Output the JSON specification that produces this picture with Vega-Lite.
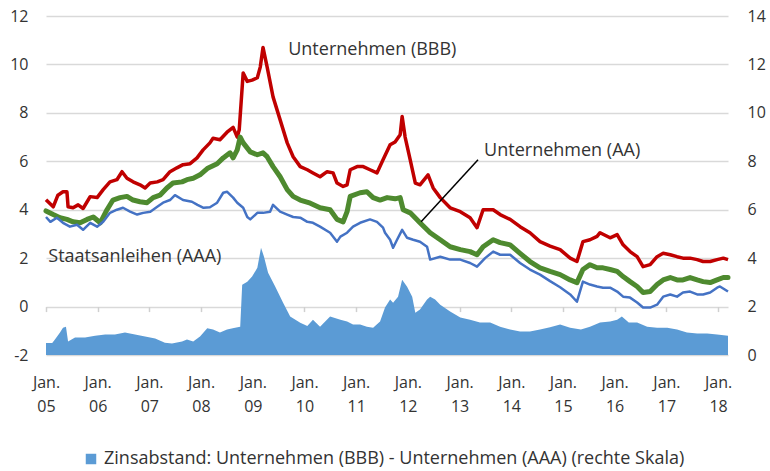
{
  "$schema": "https://vega.github.io/schema/vega-lite/v6.json",
  "width": 682,
  "height": 339,
  "autosize": {"type": "none"},
  "padding": {"left": 46, "top": 16, "right": 42, "bottom": 116},
  "config": {
    "font": "Open Sans",
    "view": {"stroke": null},
    "axis": {"labelColor": "#333333", "labelFont": "Open Sans"},
    "legend": {"labelFont": "Open Sans"}
  },
  "datasets": {
    "bbb": [
      {"d":"2005-01-01","v":4.41},{"d":"2005-02-21","v":4.12},{"d":"2005-03-26","v":4.6},{"d":"2005-05-01","v":4.74},
      {"d":"2005-05-29","v":4.74},{"d":"2005-06-06","v":4.12},{"d":"2005-07-11","v":4.08},{"d":"2005-08-16","v":4.2},
      {"d":"2005-09-20","v":4.05},{"d":"2005-11-09","v":4.54},{"d":"2005-12-28","v":4.5},{"d":"2006-02-09","v":4.83},
      {"d":"2006-03-29","v":5.15},{"d":"2006-05-17","v":5.24},{"d":"2006-06-22","v":5.57},{"d":"2006-07-27","v":5.3},
      {"d":"2006-09-08","v":5.15},{"d":"2006-10-27","v":5.03},{"d":"2006-12-02","v":4.9},{"d":"2007-01-07","v":5.1},
      {"d":"2007-02-26","v":5.15},{"d":"2007-04-08","v":5.24},{"d":"2007-05-27","v":5.57},{"d":"2007-07-15","v":5.73},
      {"d":"2007-08-27","v":5.86},{"d":"2007-10-16","v":5.9},{"d":"2007-12-04","v":6.14},{"d":"2008-01-16","v":6.47},
      {"d":"2008-03-04","v":6.76},{"d":"2008-03-26","v":6.95},{"d":"2008-05-14","v":6.89},{"d":"2008-07-03","v":7.2},
      {"d":"2008-08-15","v":7.4},{"d":"2008-09-13","v":7.0},{"d":"2008-09-27","v":7.3},{"d":"2008-10-25","v":9.65},
      {"d":"2008-11-23","v":9.3},{"d":"2008-12-27","v":9.35},{"d":"2009-02-02","v":9.45},{"d":"2009-02-23","v":9.9},
      {"d":"2009-03-14","v":10.7},{"d":"2009-04-12","v":9.9},{"d":"2009-05-24","v":8.66},{"d":"2009-07-13","v":7.71},
      {"d":"2009-09-01","v":6.76},{"d":"2009-10-13","v":6.19},{"d":"2009-12-02","v":5.78},{"d":"2010-01-21","v":5.65},
      {"d":"2010-03-02","v":5.52},{"d":"2010-04-21","v":5.36},{"d":"2010-06-10","v":5.57},{"d":"2010-07-22","v":5.52},
      {"d":"2010-08-19","v":5.1},{"d":"2010-10-01","v":4.96},{"d":"2010-10-29","v":5.03},{"d":"2010-11-20","v":5.65},
      {"d":"2011-01-08","v":5.78},{"d":"2011-02-20","v":5.78},{"d":"2011-04-09","v":5.65},{"d":"2011-05-28","v":5.52},
      {"d":"2011-07-10","v":6.06},{"d":"2011-08-29","v":6.68},{"d":"2011-10-03","v":6.8},{"d":"2011-11-08","v":7.1},
      {"d":"2011-11-22","v":7.85},{"d":"2011-12-13","v":7.0},{"d":"2012-01-18","v":6.06},{"d":"2012-02-23","v":5.1},
      {"d":"2012-03-27","v":5.03},{"d":"2012-05-23","v":5.44},{"d":"2012-06-28","v":4.9},{"d":"2012-08-17","v":4.5},
      {"d":"2012-10-26","v":4.08},{"d":"2013-01-06","v":3.92},{"d":"2013-03-16","v":3.67},{"d":"2013-05-04","v":3.26},
      {"d":"2013-06-16","v":4.0},{"d":"2013-08-26","v":4.0},{"d":"2013-10-14","v":3.8},{"d":"2013-12-24","v":3.6},
      {"d":"2014-03-04","v":3.3},{"d":"2014-05-13","v":3.05},{"d":"2014-07-23","v":2.68},{"d":"2014-10-02","v":2.5},
      {"d":"2014-12-12","v":2.35},{"d":"2015-02-21","v":2.0},{"d":"2015-04-10","v":1.86},{"d":"2015-05-22","v":2.68},
      {"d":"2015-07-11","v":2.76},{"d":"2015-08-30","v":2.9},{"d":"2015-09-20","v":3.05},{"d":"2015-11-30","v":2.84},
      {"d":"2016-01-19","v":2.97},{"d":"2016-03-01","v":2.55},{"d":"2016-04-19","v":2.27},{"d":"2016-06-08","v":2.06},
      {"d":"2016-07-20","v":1.65},{"d":"2016-09-08","v":1.73},{"d":"2016-10-27","v":2.06},{"d":"2016-12-09","v":2.2},
      {"d":"2017-01-28","v":2.14},{"d":"2017-03-17","v":2.06},{"d":"2017-04-28","v":2.0},{"d":"2017-06-17","v":2.0},
      {"d":"2017-08-06","v":1.94},{"d":"2017-09-17","v":1.86},{"d":"2017-11-06","v":1.86},{"d":"2017-12-25","v":1.94},
      {"d":"2018-02-07","v":2.0},{"d":"2018-03-12","v":1.94}
    ],
    "aa": [
      {"d":"2005-01-01","v":3.95},{"d":"2005-02-21","v":3.8},{"d":"2005-04-10","v":3.67},{"d":"2005-05-29","v":3.6},
      {"d":"2005-07-11","v":3.5},{"d":"2005-08-30","v":3.46},{"d":"2005-10-18","v":3.6},{"d":"2005-12-01","v":3.7},
      {"d":"2006-01-19","v":3.46},{"d":"2006-03-08","v":4.0},{"d":"2006-04-19","v":4.4},{"d":"2006-06-08","v":4.5},
      {"d":"2006-07-27","v":4.55},{"d":"2006-09-08","v":4.4},{"d":"2006-10-27","v":4.33},{"d":"2006-12-16","v":4.29},
      {"d":"2007-01-28","v":4.5},{"d":"2007-03-17","v":4.6},{"d":"2007-05-05","v":4.9},{"d":"2007-06-17","v":5.1},
      {"d":"2007-08-20","v":5.15},{"d":"2007-09-24","v":5.24},{"d":"2007-11-07","v":5.3},{"d":"2007-12-25","v":5.44},
      {"d":"2008-02-14","v":5.7},{"d":"2008-04-24","v":5.9},{"d":"2008-06-06","v":6.14},{"d":"2008-07-24","v":6.35},
      {"d":"2008-08-15","v":6.14},{"d":"2008-09-13","v":6.47},{"d":"2008-10-04","v":7.0},{"d":"2008-10-25","v":6.76},
      {"d":"2008-12-14","v":6.39},{"d":"2009-02-02","v":6.27},{"d":"2009-03-14","v":6.35},{"d":"2009-04-12","v":6.19},
      {"d":"2009-05-24","v":5.78},{"d":"2009-07-13","v":5.36},{"d":"2009-09-01","v":4.83},{"d":"2009-10-13","v":4.55},
      {"d":"2009-12-02","v":4.4},{"d":"2010-02-11","v":4.27},{"d":"2010-04-21","v":4.08},{"d":"2010-07-01","v":4.0},
      {"d":"2010-08-19","v":3.6},{"d":"2010-10-01","v":3.5},{"d":"2010-10-29","v":3.92},{"d":"2010-11-20","v":4.55},
      {"d":"2011-01-29","v":4.7},{"d":"2011-03-18","v":4.74},{"d":"2011-05-01","v":4.5},{"d":"2011-06-19","v":4.4},
      {"d":"2011-08-08","v":4.5},{"d":"2011-10-03","v":4.45},{"d":"2011-11-08","v":4.5},{"d":"2011-11-29","v":4.0},
      {"d":"2012-01-18","v":3.87},{"d":"2012-03-27","v":3.46},{"d":"2012-06-07","v":3.05},{"d":"2012-08-17","v":2.76},
      {"d":"2012-10-26","v":2.47},{"d":"2013-01-06","v":2.35},{"d":"2013-03-16","v":2.27},{"d":"2013-05-04","v":2.14},
      {"d":"2013-06-16","v":2.47},{"d":"2013-08-26","v":2.76},{"d":"2013-10-14","v":2.64},{"d":"2013-12-24","v":2.55},
      {"d":"2014-03-04","v":2.2},{"d":"2014-05-13","v":1.86},{"d":"2014-07-23","v":1.6},{"d":"2014-10-02","v":1.45},
      {"d":"2014-12-12","v":1.32},{"d":"2015-02-21","v":1.1},{"d":"2015-04-10","v":0.99},{"d":"2015-05-22","v":1.53},
      {"d":"2015-07-11","v":1.73},{"d":"2015-08-30","v":1.6},{"d":"2015-10-11","v":1.6},{"d":"2015-11-30","v":1.53},
      {"d":"2016-01-19","v":1.45},{"d":"2016-03-01","v":1.24},{"d":"2016-04-19","v":1.03},{"d":"2016-06-08","v":0.83},
      {"d":"2016-07-20","v":0.58},{"d":"2016-09-08","v":0.62},{"d":"2016-10-27","v":0.91},{"d":"2016-12-09","v":1.1},
      {"d":"2017-01-28","v":1.2},{"d":"2017-03-17","v":1.1},{"d":"2017-04-28","v":1.1},{"d":"2017-06-17","v":1.2},
      {"d":"2017-08-06","v":1.1},{"d":"2017-09-17","v":1.03},{"d":"2017-11-06","v":0.99},{"d":"2017-12-25","v":1.1},
      {"d":"2018-02-07","v":1.2},{"d":"2018-03-12","v":1.2}
    ],
    "aaa": [
      {"d":"2005-01-01","v":3.7},{"d":"2005-02-01","v":3.5},{"d":"2005-03-19","v":3.67},{"d":"2005-05-01","v":3.46},
      {"d":"2005-06-19","v":3.3},{"d":"2005-08-08","v":3.38},{"d":"2005-09-20","v":3.17},{"d":"2005-11-09","v":3.46},
      {"d":"2005-12-28","v":3.3},{"d":"2006-02-09","v":3.5},{"d":"2006-03-29","v":3.87},{"d":"2006-05-17","v":4.0},
      {"d":"2006-06-29","v":4.08},{"d":"2006-08-18","v":3.92},{"d":"2006-10-07","v":3.8},{"d":"2006-11-19","v":3.87},
      {"d":"2007-01-08","v":3.92},{"d":"2007-02-26","v":4.12},{"d":"2007-04-08","v":4.29},{"d":"2007-05-27","v":4.4},
      {"d":"2007-07-01","v":4.6},{"d":"2007-08-27","v":4.4},{"d":"2007-10-29","v":4.33},{"d":"2007-12-07","v":4.2},
      {"d":"2008-01-19","v":4.08},{"d":"2008-03-04","v":4.1},{"d":"2008-04-24","v":4.29},{"d":"2008-06-06","v":4.7},
      {"d":"2008-07-04","v":4.74},{"d":"2008-08-15","v":4.5},{"d":"2008-09-13","v":4.29},{"d":"2008-10-25","v":4.08},
      {"d":"2008-11-23","v":3.7},{"d":"2008-12-14","v":3.6},{"d":"2009-02-02","v":3.87},{"d":"2009-03-14","v":3.87},
      {"d":"2009-05-03","v":3.92},{"d":"2009-05-24","v":4.2},{"d":"2009-07-13","v":3.92},{"d":"2009-09-01","v":3.8},
      {"d":"2009-10-13","v":3.7},{"d":"2009-12-02","v":3.67},{"d":"2010-01-21","v":3.5},{"d":"2010-03-02","v":3.46},
      {"d":"2010-04-21","v":3.3},{"d":"2010-07-01","v":3.05},{"d":"2010-08-19","v":2.68},{"d":"2010-09-12","v":2.89},
      {"d":"2010-10-29","v":3.05},{"d":"2010-12-10","v":3.3},{"d":"2011-01-29","v":3.46},{"d":"2011-04-09","v":3.6},
      {"d":"2011-05-28","v":3.5},{"d":"2011-07-10","v":3.26},{"d":"2011-07-24","v":3.05},{"d":"2011-08-29","v":2.76},
      {"d":"2011-09-19","v":2.43},{"d":"2011-10-17","v":2.76},{"d":"2011-11-22","v":3.17},{"d":"2011-12-27","v":2.84},
      {"d":"2012-02-08","v":2.76},{"d":"2012-03-27","v":2.68},{"d":"2012-05-16","v":2.47},{"d":"2012-06-07","v":1.94},
      {"d":"2012-08-17","v":2.06},{"d":"2012-10-26","v":1.94},{"d":"2013-01-06","v":1.94},{"d":"2013-03-16","v":1.8},
      {"d":"2013-05-04","v":1.65},{"d":"2013-06-30","v":2.0},{"d":"2013-08-26","v":2.27},{"d":"2013-10-14","v":2.14},
      {"d":"2013-12-24","v":2.14},{"d":"2014-03-04","v":1.8},{"d":"2014-05-13","v":1.53},{"d":"2014-07-23","v":1.32},
      {"d":"2014-10-02","v":1.05},{"d":"2014-12-12","v":0.8},{"d":"2015-02-21","v":0.5},{"d":"2015-04-10","v":0.2},
      {"d":"2015-05-22","v":1.03},{"d":"2015-07-11","v":0.91},{"d":"2015-08-30","v":0.83},{"d":"2015-10-11","v":0.78},
      {"d":"2015-11-30","v":0.78},{"d":"2016-01-19","v":0.62},{"d":"2016-03-01","v":0.41},{"d":"2016-04-19","v":0.37},
      {"d":"2016-06-08","v":0.17},{"d":"2016-07-20","v":-0.04},{"d":"2016-09-08","v":-0.04},{"d":"2016-10-27","v":0.08},
      {"d":"2016-12-09","v":0.41},{"d":"2017-01-28","v":0.5},{"d":"2017-03-17","v":0.41},{"d":"2017-04-28","v":0.58},
      {"d":"2017-06-17","v":0.62},{"d":"2017-08-06","v":0.5},{"d":"2017-09-17","v":0.5},{"d":"2017-11-06","v":0.58},
      {"d":"2017-12-25","v":0.78},{"d":"2018-01-14","v":0.83},{"d":"2018-03-12","v":0.62}
    ],
    "spread": [
      {"d":"2005-01-01","v":0.5},{"d":"2005-02-14","v":0.5},{"d":"2005-03-05","v":0.64},{"d":"2005-04-10","v":0.93},
      {"d":"2005-05-01","v":1.13},{"d":"2005-05-22","v":1.17},{"d":"2005-06-06","v":0.56},{"d":"2005-07-25","v":0.72},
      {"d":"2005-10-04","v":0.72},{"d":"2005-12-14","v":0.8},{"d":"2006-02-23","v":0.85},{"d":"2006-05-03","v":0.85},
      {"d":"2006-07-13","v":0.93},{"d":"2006-09-22","v":0.85},{"d":"2006-12-02","v":0.76},{"d":"2007-02-11","v":0.68},
      {"d":"2007-04-21","v":0.51},{"d":"2007-06-10","v":0.47},{"d":"2007-08-20","v":0.56},{"d":"2007-09-24","v":0.64},
      {"d":"2007-11-07","v":0.56},{"d":"2007-12-25","v":0.76},{"d":"2008-02-14","v":1.1},{"d":"2008-03-26","v":1.05},
      {"d":"2008-05-14","v":0.93},{"d":"2008-07-03","v":1.05},{"d":"2008-08-29","v":1.13},{"d":"2008-10-04","v":1.17},
      {"d":"2008-10-18","v":2.9},{"d":"2008-11-23","v":3.03},{"d":"2008-12-27","v":3.24},{"d":"2009-02-02","v":3.6},
      {"d":"2009-02-28","v":4.43},{"d":"2009-03-21","v":4.06},{"d":"2009-04-19","v":3.4},{"d":"2009-06-08","v":2.83},
      {"d":"2009-08-03","v":2.16},{"d":"2009-09-22","v":1.59},{"d":"2009-12-02","v":1.33},{"d":"2010-01-21","v":1.2},
      {"d":"2010-03-02","v":1.46},{"d":"2010-04-21","v":1.17},{"d":"2010-07-01","v":1.59},{"d":"2010-09-12","v":1.46},
      {"d":"2010-10-29","v":1.38},{"d":"2010-12-10","v":1.26},{"d":"2011-01-29","v":1.26},{"d":"2011-03-18","v":1.17},
      {"d":"2011-05-01","v":1.13},{"d":"2011-06-19","v":1.38},{"d":"2011-07-24","v":1.96},{"d":"2011-08-29","v":2.29},
      {"d":"2011-09-19","v":2.16},{"d":"2011-10-24","v":2.41},{"d":"2011-11-22","v":3.11},{"d":"2011-12-27","v":2.82},
      {"d":"2012-02-01","v":2.41},{"d":"2012-02-23","v":1.75},{"d":"2012-03-27","v":1.88},{"d":"2012-05-16","v":2.29},
      {"d":"2012-06-07","v":2.41},{"d":"2012-07-12","v":2.29},{"d":"2012-08-17","v":2.08},{"d":"2012-10-26","v":1.8},
      {"d":"2013-01-06","v":1.55},{"d":"2013-03-16","v":1.46},{"d":"2013-05-25","v":1.34},{"d":"2013-08-05","v":1.34},
      {"d":"2013-10-14","v":1.17},{"d":"2013-12-24","v":1.05},{"d":"2014-03-04","v":0.97},{"d":"2014-05-13","v":0.97},
      {"d":"2014-07-23","v":1.05},{"d":"2014-10-02","v":1.15},{"d":"2014-12-12","v":1.26},{"d":"2015-02-21","v":1.13},
      {"d":"2015-05-08","v":1.05},{"d":"2015-07-11","v":1.17},{"d":"2015-09-20","v":1.34},{"d":"2015-11-30","v":1.38},
      {"d":"2016-01-19","v":1.46},{"d":"2016-02-21","v":1.59},{"d":"2016-04-10","v":1.34},{"d":"2016-06-08","v":1.34},
      {"d":"2016-08-18","v":1.17},{"d":"2016-10-27","v":1.13},{"d":"2017-01-07","v":1.13},{"d":"2017-03-17","v":1.05},
      {"d":"2017-05-26","v":0.93},{"d":"2017-08-06","v":0.89},{"d":"2017-10-16","v":0.89},{"d":"2017-12-25","v":0.85},
      {"d":"2018-03-12","v":0.8}
    ],
    "annot": [
      {"d":"2009-09-08","v":10.6,"t":"Unternehmen (BBB)"},
      {"d":"2013-06-23","v":6.43,"t":"Unternehmen (AA)"},
      {"d":"2005-01-17","v":2.06,"t":"Staatsanleihen (AAA)"}
    ],
    "leader": [{"d1":"2013-05-11","v1":6.06,"d2":"2012-04-04","v2":3.5}]
  },
  "layer": [
    {
      "data": {"name": "spread"},
      "mark": {"type": "area", "interpolate": "linear"},
      "encoding": {
        "x": {
          "field": "d", "type": "temporal",
          "scale": {"type": "utc", "domain": [{"year":2005,"month":1,"date":1,"utc":true},{"year":2018,"month":3,"date":12,"utc":true}]},
          "axis": null
        },
        "y": {
          "field": "v", "type": "quantitative",
          "scale": {"domain": [0, 14], "nice": false, "zero": false},
          "axis": {"orient": "right", "values": [0,2,4,6,8,10,12,14], "ticks": false, "domain": false, "grid": false,
                   "labelPadding": 19, "labelFontSize": 16, "labelFlush": false, "title": null}
        },
        "color": {
          "datum": "Zinsabstand: Unternehmen (BBB) - Unternehmen (AAA) (rechte Skala)",
          "scale": {"range": ["#5b9bd5"]},
          "legend": {"orient": "none", "legendX": 36, "legendY": 434, "title": null, "symbolType": "square",
                     "symbolSize": 110, "symbolStrokeWidth": 0, "labelFontSize": 18, "labelColor": "#333333", "labelLimit": 1000}
        }
      }
    },
    {
      "data": {"name": "bbb"},
      "mark": {"type": "line", "color": "#c00000", "strokeWidth": 3.5, "strokeJoin": "round"},
      "encoding": {
        "x": {
          "field": "d", "type": "temporal",
          "axis": {"orient": "bottom", "ticks": false, "domain": false, "grid": false, "labelPadding": 19,
                   "labelFontSize": 16, "labelLineHeight": 24, "labelFlush": false, "labelOverlap": false,
                   "labelExpr": "['Jan.', utcFormat(datum.value, '%y')]",
                   "tickCount": {"interval": "year", "step": 1}, "title": null}
        },
        "y": {
          "field": "v", "type": "quantitative",
          "scale": {"domain": [-2, 12], "nice": false, "zero": false},
          "axis": {"orient": "left", "values": [-2,0,2,4,6,8,10,12], "ticks": false, "domain": false,
                   "grid": true, "gridColor": "#d9d9d9", "gridWidth": 1.5,
                   "labelPadding": 18, "labelFontSize": 16, "labelFlush": false, "title": null,
                   "labelExpr": "replace(datum.label, '\u2212', '-')"}
        }
      }
    },
    {
      "data": {"name": "aa"},
      "mark": {"type": "line", "color": "#4e8a2f", "strokeWidth": 5, "strokeJoin": "round", "strokeCap": "round"},
      "encoding": {
        "x": {"field": "d", "type": "temporal", "axis": null},
        "y": {"field": "v", "type": "quantitative", "scale": {"domain": [-2, 12], "nice": false, "zero": false}, "axis": null}
      }
    },
    {
      "data": {"name": "aaa"},
      "mark": {"type": "line", "color": "#4472c4", "strokeWidth": 2.5, "strokeJoin": "round"},
      "encoding": {
        "x": {
          "field": "d", "type": "temporal",
          "axis": {"orient": "bottom", "offset": -48.4, "labels": false, "domain": false, "grid": false,
                   "ticks": true, "tickSize": 5, "tickColor": "#d0d0d0", "tickWidth": 1.5,
                   "tickCount": {"interval": "year", "step": 1}, "title": null}
        },
        "y": {"field": "v", "type": "quantitative", "scale": {"domain": [-2, 12], "nice": false, "zero": false}, "axis": null}
      }
    },
    {
      "data": {"name": "leader"},
      "mark": {"type": "rule", "color": "#000000", "strokeWidth": 1.5},
      "encoding": {
        "x": {"field": "d1", "type": "temporal", "axis": null},
        "x2": {"field": "d2"},
        "y": {"field": "v1", "type": "quantitative", "scale": {"domain": [-2, 12], "nice": false, "zero": false}, "axis": null},
        "y2": {"field": "v2"}
      }
    },
    {
      "data": {"name": "annot"},
      "mark": {"type": "text", "align": "left", "baseline": "middle", "fontSize": 18, "color": "#333333", "font": "Open Sans"},
      "encoding": {
        "x": {"field": "d", "type": "temporal", "axis": null},
        "y": {"field": "v", "type": "quantitative", "scale": {"domain": [-2, 12], "nice": false, "zero": false}, "axis": null},
        "text": {"field": "t"}
      }
    }
  ],
  "resolve": {"scale": {"y": "independent"}, "axis": {"x": "independent", "y": "independent"}}
}
